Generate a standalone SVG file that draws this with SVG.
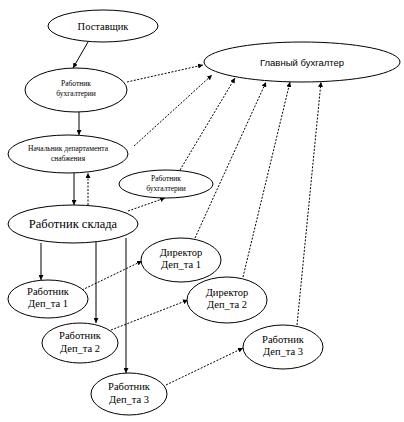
<svg xmlns="http://www.w3.org/2000/svg" width="404" height="422" viewBox="0 0 404 422">
<defs>
<marker id="ah" viewBox="0 0 10 10" refX="10" refY="5" markerWidth="5" markerHeight="5" orient="auto" markerUnits="userSpaceOnUse">
<path d="M0,0 L10,5 L0,10 z" fill="#000"/>
</marker>
<style>
.n ellipse{fill:#fff;stroke:#000;stroke-width:1}
.n text{fill:#000;text-anchor:middle}
.s{stroke:#000;stroke-width:1;fill:none;marker-end:url(#ah)}
.g{stroke:#555;stroke-width:1.5;fill:none;marker-end:url(#ah)}
.d{stroke:#000;stroke-width:1;stroke-dasharray:2,1.5;fill:none;marker-end:url(#ah)}
</style>
</defs>
<rect width="404" height="422" fill="#fff"/>
<g id="connectors">
<line class="s" x1="88" y1="42" x2="73" y2="68"/>
<line class="s" x1="79" y1="112" x2="79" y2="135"/>
<line class="d" x1="127" y1="82" x2="203" y2="65"/>
<line class="d" x1="134" y1="146" x2="212" y2="75"/>
<line class="d" x1="180" y1="170" x2="235" y2="78"/>
<line class="d" x1="195" y1="238" x2="266" y2="82"/>
<line class="d" x1="243" y1="277" x2="290" y2="82"/>
<line class="d" x1="297" y1="325" x2="321" y2="82"/>
<line class="s" x1="74" y1="173" x2="74" y2="205"/>
<line class="d" x1="88" y1="205" x2="88" y2="173"/>
<line class="d" x1="128" y1="211" x2="165" y2="198"/>
<line class="g" x1="41" y1="243" x2="41" y2="280"/>
<line class="s" x1="96" y1="240" x2="96" y2="323"/>
<line class="g" x1="126" y1="238" x2="126" y2="373"/>
<line class="d" x1="82" y1="290" x2="142" y2="261"/>
<line class="d" x1="111" y1="330" x2="188" y2="300"/>
<line class="d" x1="166" y1="385" x2="243" y2="348"/>
</g>
<g font-family="Liberation Serif, Times New Roman, serif">
<g id="postavshik" class="n"><ellipse cx="103" cy="26" rx="55" ry="16"/><text x="103" y="29.5" font-size="10.5">Поставщик</text></g>
<g id="glavbuh" class="n" font-family="Liberation Sans, Arial, sans-serif"><ellipse cx="302" cy="62" rx="98" ry="20"/><text x="302" y="65.5" font-size="9.5">Главный бухгалтер</text></g>
<g id="rabbuh1" class="n"><ellipse cx="76" cy="90" rx="51" ry="22"/><text x="76" y="86" font-size="7.5">Работник</text><text x="76" y="96" font-size="7.5">бухгалтерии</text></g>
<g id="nachalnik" class="n"><ellipse cx="68" cy="154" rx="60" ry="19"/><text x="68" y="151" font-size="7.5">Начальник департамента</text><text x="68" y="161" font-size="7.5">снабжения</text></g>
<g id="rabbuh2" class="n"><ellipse cx="166" cy="184" rx="47" ry="14"/><text x="166" y="181" font-size="7.5">Работник</text><text x="166" y="191" font-size="7.5">бухгалтерии</text></g>
<g id="sklad" class="n"><ellipse cx="73" cy="224" rx="65" ry="19"/><text x="73" y="228" font-size="12.5">Работник склада</text></g>
<g id="rab1" class="n"><ellipse cx="48" cy="299" rx="40" ry="19"/><text x="48" y="295" font-size="10.5">Работник</text><text x="48" y="307" font-size="10.5">Деп_та 1</text></g>
<g id="rab2" class="n"><ellipse cx="80" cy="343" rx="38" ry="20"/><text x="80" y="339" font-size="10.5">Работник</text><text x="80" y="352" font-size="10.5">Деп_та 2</text></g>
<g id="rab3" class="n"><ellipse cx="129" cy="394" rx="38" ry="21"/><text x="129" y="390" font-size="10.5">Работник</text><text x="129" y="403" font-size="10.5">Деп_та 3</text></g>
<g id="dir1" class="n"><ellipse cx="181" cy="260" rx="40" ry="22"/><text x="181" y="256" font-size="10.5">Директор</text><text x="181" y="268" font-size="10.5">Деп_та 1</text></g>
<g id="dir2" class="n"><ellipse cx="227" cy="300" rx="40" ry="23"/><text x="227" y="296" font-size="10.5">Директор</text><text x="227" y="308" font-size="10.5">Деп_та 2</text></g>
<g id="rab3r" class="n"><ellipse cx="283" cy="347" rx="40" ry="22"/><text x="283" y="343" font-size="10.5">Работник</text><text x="283" y="355" font-size="10.5">Деп_та 3</text></g>
</g>
</svg>
